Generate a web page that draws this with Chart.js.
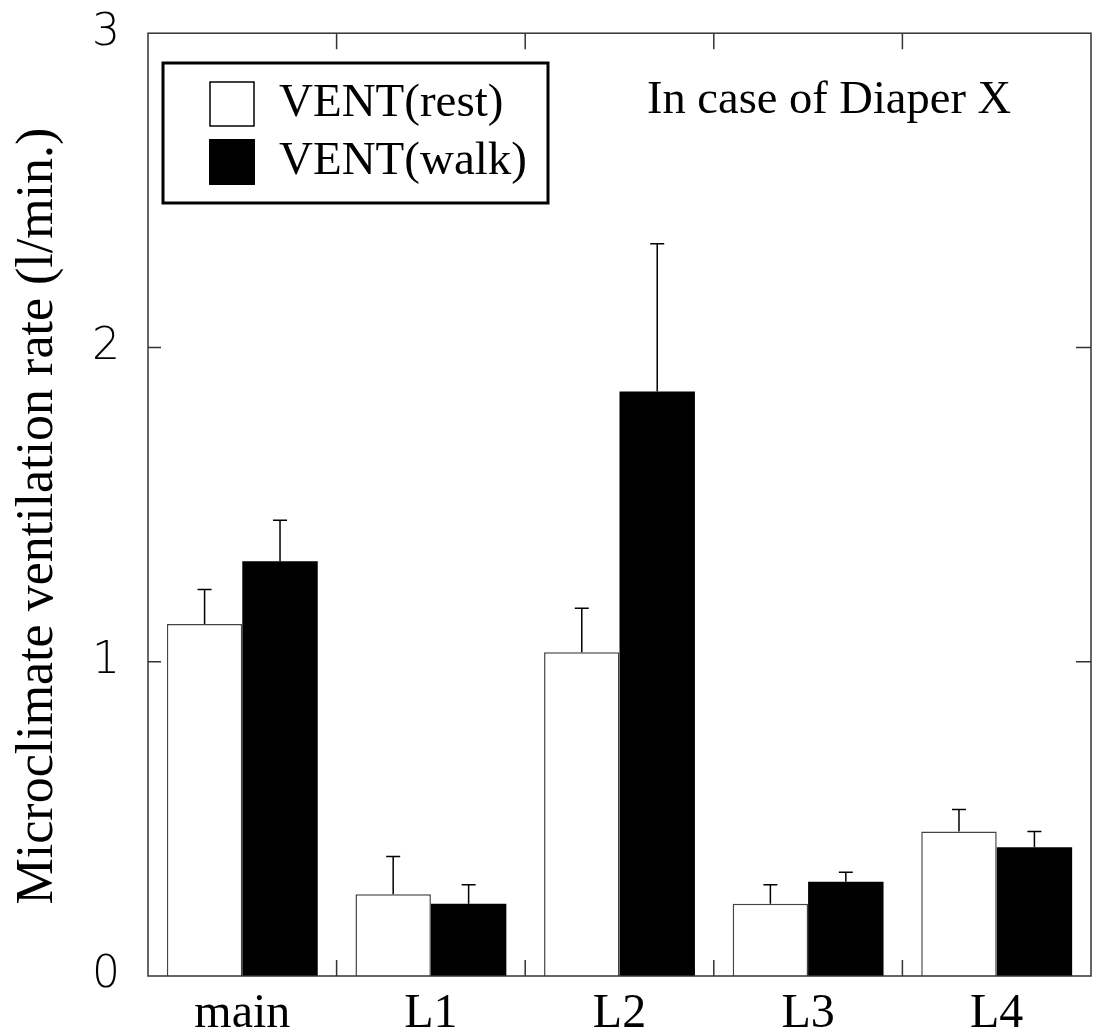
<!DOCTYPE html>
<html>
<head>
<meta charset="utf-8">
<script src="https://cdn.jsdelivr.net/npm/chart.js@4"></script>
<style>
  html, body { margin: 0; padding: 0; background: #fff; }
  #wrap { width: 1093px; height: 1034px; }
</style>
</head>
<body>
<div id="wrap"><canvas id="chart"></canvas></div>
<script>
// Chart data
const categories = ['main', 'L1', 'L2', 'L3', 'L4'];
const restValues = [1.12, 0.26, 1.03, 0.23, 0.46];
const restErrors = [0.11, 0.12, 0.14, 0.06, 0.07];
const walkValues = [1.32, 0.23, 1.86, 0.30, 0.41];
const walkErrors = [0.13, 0.06, 0.47, 0.03, 0.05];
const yTicks = [0, 1, 2, 3];
const seriesLabels = ['VENT(rest)', 'VENT(walk)'];
const annotationText = 'In case of Diaper X';
const yTitle = 'Microclimate ventilation rate (l/min.)';

const serif = '"Liberation Serif", "Times New Roman", serif';

// Error bars drawn on top of each bar
const errorBars = {
    id: 'errorBars',
    afterDatasetsDraw(chart) {
        const ctx = chart.ctx;
        const yScale = chart.scales.y;
        const errs = [restErrors, walkErrors];
        ctx.save();
        ctx.strokeStyle = '#000';
        ctx.lineWidth = 1.5;
        chart.data.datasets.forEach((ds, i) => {
            const meta = chart.getDatasetMeta(i);
            meta.data.forEach((bar, j) => {
                const top = yScale.getPixelForValue(ds.data[j] + errs[i][j]);
                ctx.beginPath();
                ctx.moveTo(bar.x, bar.y);
                ctx.lineTo(bar.x, top);
                ctx.moveTo(bar.x - 7, top);
                ctx.lineTo(bar.x + 7, top);
                ctx.stroke();
            });
        });
        ctx.restore();
    }
};

// Frame, inward ticks, legend box, annotation and y title
const decorations = {
    id: 'decorations',
    afterDraw(chart) {
        const ctx = chart.ctx;
        const area = chart.chartArea;
        const x = chart.scales.x;
        const y = chart.scales.y;
        ctx.save();

        // frame
        ctx.strokeStyle = '#333';
        ctx.lineWidth = 1.5;
        ctx.strokeRect(area.left, area.top, area.right - area.left, area.bottom - area.top);

        // y ticks on both sides
        ctx.beginPath();
        yTicks.slice(1, -1).forEach(v => {
            const py = y.getPixelForValue(v);
            ctx.moveTo(area.left, py);
            ctx.lineTo(area.left + 13, py);
            ctx.moveTo(area.right, py);
            ctx.lineTo(area.right - 15, py);
        });
        // category boundary ticks top and bottom
        for (let i = 0; i < categories.length - 1; i++) {
            const px = (x.getPixelForValue(i) + x.getPixelForValue(i + 1)) / 2;
            ctx.moveTo(px, area.bottom);
            ctx.lineTo(px, area.bottom - 16);
            ctx.moveTo(px, area.top);
            ctx.lineTo(px, area.top + 16);
        }
        ctx.stroke();

        // legend
        ctx.strokeStyle = '#000';
        ctx.lineWidth = 3;
        ctx.strokeRect(163, 63, 385, 140);
        ctx.lineWidth = 1.5;
        ctx.fillStyle = '#fff';
        ctx.fillRect(210, 82, 44, 44);
        ctx.strokeRect(210, 82, 44, 44);
        ctx.fillStyle = '#000';
        ctx.fillRect(209, 139, 46, 46);

        ctx.font = '47px ' + serif;
        ctx.textBaseline = 'middle';
        ctx.textAlign = 'left';
        ctx.fillText(seriesLabels[0], 279, 104);
        ctx.fillText(seriesLabels[1], 279, 162);

        // annotation
        ctx.font = '46.5px ' + serif;
        ctx.fillText(annotationText, 647, 101);

        // y axis title
        ctx.translate(52, 516);
        ctx.rotate(-Math.PI / 2);
        ctx.textAlign = 'center';
        ctx.textBaseline = 'alphabetic';
        ctx.font = '52px ' + serif;
        ctx.fillText(yTitle, 0, 0);

        ctx.restore();
    }
};

new Chart(document.getElementById('chart'), {
    type: 'bar',
    data: {
        labels: categories,
        datasets: [
            {
                label: seriesLabels[0],
                data: restValues,
                backgroundColor: '#fff',
                borderColor: '#444',
                borderWidth: 1.5,
                categoryPercentage: 0.8,
                barPercentage: 1.0
            },
            {
                label: seriesLabels[1],
                data: walkValues,
                backgroundColor: '#000',
                borderWidth: 0,
                categoryPercentage: 0.8,
                barPercentage: 1.0
            }
        ]
    },
    options: {
        responsive: true,
        maintainAspectRatio: false,
        animation: false,
        layout: { padding: { top: 32, right: 2, left: 0, bottom: 0 } },
        plugins: {
            legend: { display: false },
            tooltip: { enabled: false }
        },
        scales: {
            x: {
                grid: { display: false },
                border: { display: false },
                ticks: {
                    color: '#000',
                    padding: 2,
                    font: { family: serif, size: 48 }
                },
                afterFit(scale) { scale.height = 58; }
            },
            y: {
                min: 0,
                max: 3,
                grid: { display: false },
                border: { display: false },
                ticks: {
                    stepSize: 1,
                    color: '#000',
                    padding: 20,
                    font: { family: '"DejaVu Sans", sans-serif', size: 44, weight: '200', lineHeight: 0.6 }
                },
                afterFit(scale) { scale.width = 148; }
            }
        }
    },
    plugins: [errorBars, decorations]
});
</script>
</body>
</html>
